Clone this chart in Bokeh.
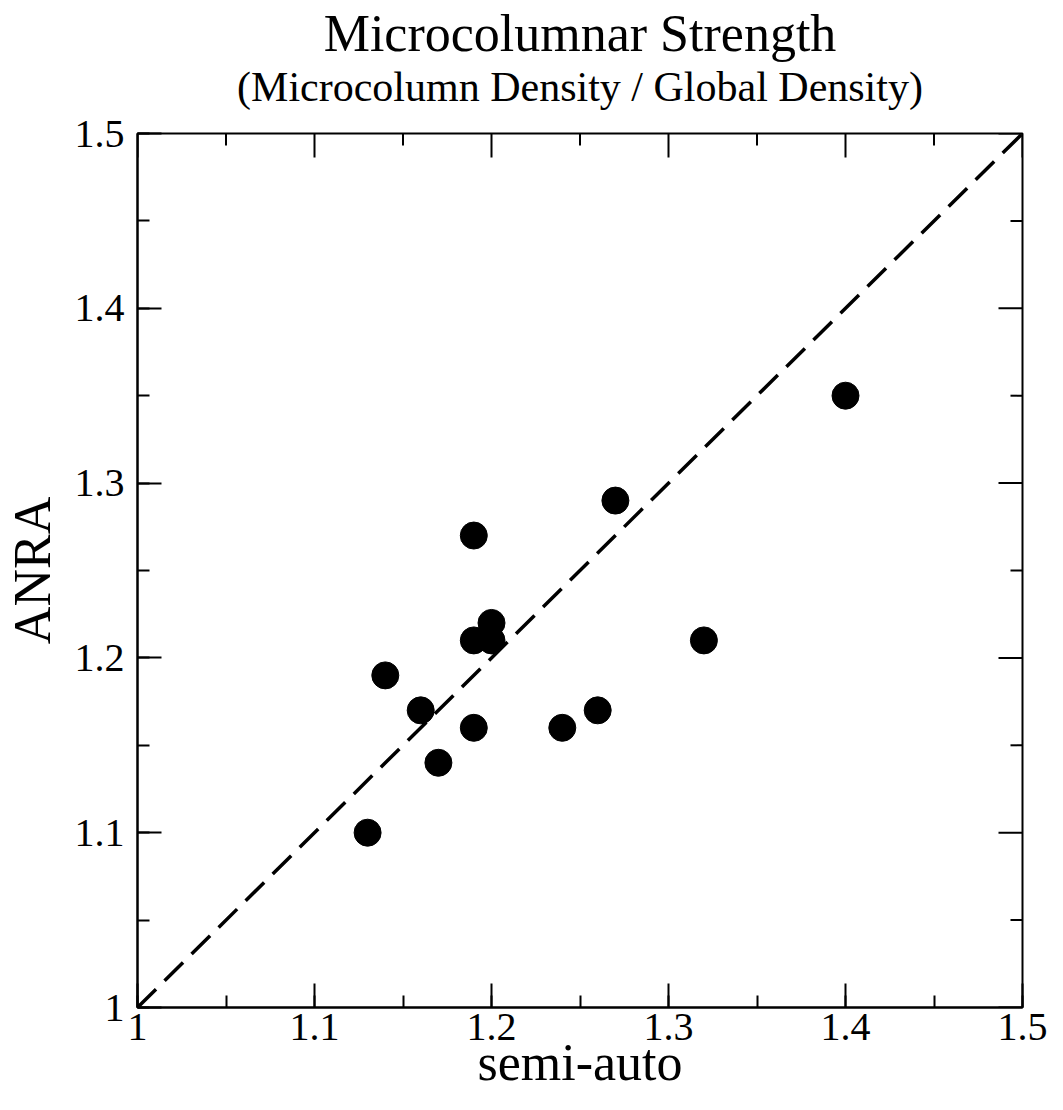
import math
from bokeh.plotting import figure
from bokeh.models import (Range1d, LinearAxis, SingleIntervalTicker, CustomJSTickFormatter, Title)
from bokeh.embed import file_html
from bokeh.resources import INLINE

# ---- data ----
semi_auto = [1.13, 1.14, 1.16, 1.17, 1.19, 1.19, 1.19, 1.20, 1.20, 1.24, 1.26, 1.27, 1.32, 1.40]
anra = [1.10, 1.19, 1.17, 1.14, 1.27, 1.21, 1.16, 1.22, 1.21, 1.16, 1.17, 1.29, 1.21, 1.35]
axis_min = 1.0
axis_max = 1.5
tick_step = 0.1
title_text = "Microcolumnar Strength"
subtitle_text = "(Microcolumn Density / Global Density)"
x_label = "semi-auto"
y_label = "ANRA"

FONT = "Liberation Serif"

p = figure(width=1063, height=1110,
           x_range=Range1d(axis_min, axis_max), y_range=Range1d(axis_min, axis_max),
           output_backend="svg", toolbar_location=None, title=None,
           x_axis_type=None, y_axis_type=None,
           min_border_left=133, min_border_right=41,
           min_border_top=133, min_border_bottom=103)
p.background_fill_color = "white"
p.border_fill_color = "white"
p.outline_line_color = "black"
p.outline_line_width = 2
p.xgrid.visible = False
p.ygrid.visible = False

fmt_code = "return (Math.round(tick*10)/10).toString();"

def make_axis(label):
    ax = LinearAxis(ticker=SingleIntervalTicker(interval=tick_step, num_minor_ticks=2),
                    formatter=CustomJSTickFormatter(code=fmt_code))
    ax.axis_line_color = "black"
    ax.axis_line_width = 2
    ax.major_tick_in = 24
    ax.major_tick_out = 0
    ax.minor_tick_in = 12
    ax.minor_tick_out = 0
    ax.major_tick_line_color = "black"
    ax.major_tick_line_width = 2
    ax.minor_tick_line_color = "black"
    ax.minor_tick_line_width = 2
    ax.major_label_text_font = FONT
    ax.major_label_text_font_size = "40px"
    ax.major_label_text_color = "black"
    ax.axis_label = label
    ax.axis_label_text_font = FONT
    ax.axis_label_text_font_size = "52px"
    ax.axis_label_text_font_style = "normal"
    ax.axis_label_text_color = "black"
    return ax

xb = make_axis(x_label)
xb.major_label_standoff = 6
xb.axis_label_standoff = -9
yl = make_axis(y_label)
yl.major_label_standoff = 13
yl.axis_label_standoff = 11
p.add_layout(xb, "below")
p.add_layout(yl, "left")

# tick marks on the top and right edges (inward only; outer half is clipped by the frame)
n_major = int(round((axis_max - axis_min) / tick_step))
major_pos = [round(axis_min + i * tick_step, 3) for i in range(n_major + 1)]
minor_pos = [round(axis_min + (i + 0.5) * tick_step, 3) for i in range(n_major)]
top_edge = [axis_max] * len(major_pos)
top_edge_minor = [axis_max] * len(minor_pos)

p.scatter(major_pos, top_edge, marker="dash", size=48, angle=math.pi / 2,
          line_color="black", line_width=2)
p.scatter(minor_pos, top_edge_minor, marker="dash", size=24, angle=math.pi / 2,
          line_color="black", line_width=2)
p.scatter(top_edge, major_pos, marker="dash", size=48,
          line_color="black", line_width=2)
p.scatter(top_edge_minor, minor_pos, marker="dash", size=24,
          line_color="black", line_width=2)

# titles: first added is closest to the plot
p.add_layout(Title(text=subtitle_text, align="center", text_font=FONT,
                   text_font_size="42px", text_font_style="normal",
                   text_color="black", standoff=48), "above")
p.add_layout(Title(text=title_text, align="center", text_font=FONT,
                   text_font_size="52px", text_font_style="normal",
                   text_color="black", standoff=-49), "above")

# diagonal reference line y = x
p.line([axis_min, axis_max], [axis_min, axis_max], line_color="black",
       line_width=3.5, line_dash="26 12")

p.scatter(semi_auto, anra, size=27, marker="circle", fill_color="black",
          line_color="black")

open("out.html", "w").write(file_html(p, INLINE))
